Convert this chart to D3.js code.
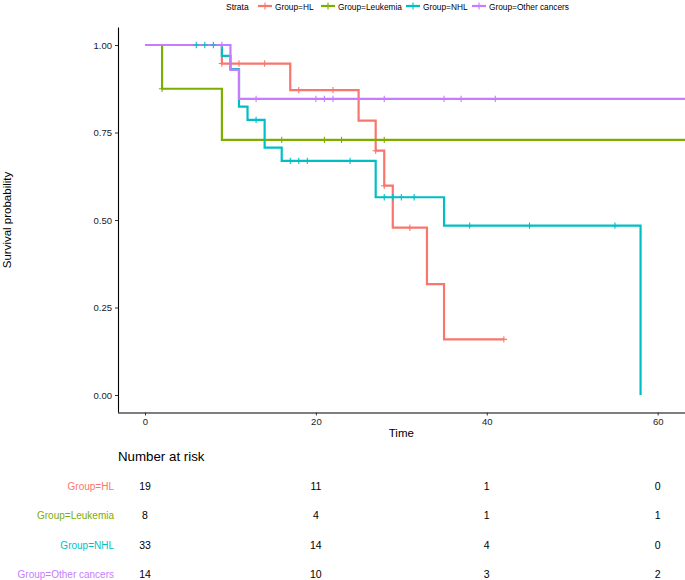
<!DOCTYPE html>
<html>
<head>
<meta charset="utf-8">
<script src="https://cdn.jsdelivr.net/npm/d3@7"></script>
<style>
  body { margin: 0; background: #fff; }
  svg { display: block; font-family: "Liberation Sans", Arial, sans-serif; }
</style>
</head>
<body>
<svg id="chart" width="685" height="580"></svg>
<script>
// ---------- data ----------
const groups = ["Group=HL", "Group=Leukemia", "Group=NHL", "Group=Other cancers"];
const colors = ["#F8766D", "#7CAE00", "#00BFC4", "#C77CFF"];

// step times (event times) and survival after each step
const hlTimes   = [0, 9, 17, 25, 27, 28, 29, 33, 35];
const hlSurv    = [1, 0.947, 0.871, 0.784, 0.698, 0.598, 0.478, 0.317, 0.159];
const hlEnd     = 42;
const hlCensor  = [9, 11, 14, 18, 22, 27, 28, 31, 42];

const leuTimes  = [0, 2, 9];
const leuSurv   = [1, 0.875, 0.729];
const leuEnd    = 63.2;
const leuCensor = [2, 16, 21, 23, 28];

const nhlTimes  = [0, 9, 10, 11, 12, 14, 16, 27, 35, 58];
const nhlSurv   = [1, 0.969, 0.931, 0.824, 0.786, 0.707, 0.669, 0.565, 0.484, 0];
const nhlEnd    = 58;
const nhlCensor = [6, 7, 8, 13, 17, 18, 19, 24, 28, 29, 30, 31.5, 38, 45, 55];

const othTimes  = [0, 10, 11];
const othSurv   = [1, 0.929, 0.846];
const othEnd    = 63.2;
const othCensor = [9, 13, 20, 21, 22, 28, 35, 37, 41];

const xTicks = [0, 20, 40, 60];
const yTicks = [0, 0.25, 0.5, 0.75, 1];
const riskTimes = [0, 20, 40, 60];
const riskHL    = [19, 11, 1, 0];
const riskLeu   = [8, 4, 1, 1];
const riskNHL   = [33, 14, 4, 0];
const riskOth   = [14, 10, 3, 2];

const series = [
  {times: hlTimes,  surv: hlSurv,  end: hlEnd,  censor: hlCensor,  risk: riskHL},
  {times: leuTimes, surv: leuSurv, end: leuEnd, censor: leuCensor, risk: riskLeu},
  {times: nhlTimes, surv: nhlSurv, end: nhlEnd, censor: nhlCensor, risk: riskNHL},
  {times: othTimes, surv: othSurv, end: othEnd, censor: othCensor, risk: riskOth}
];

// ---------- layout ----------
const svg = d3.select("#chart");
const pLeft = 118, pRight = 685, pTop = 27.5, pBottom = 412.5;
const x = d3.scaleLinear().domain([-3.16, 63.2]).range([pLeft, pRight]);
const y = d3.scaleLinear().domain([-0.05, 1.05]).range([pBottom, pTop]);

svg.append("clipPath").attr("id", "clip")
  .append("rect").attr("x", pLeft).attr("y", 0).attr("width", pRight - pLeft).attr("height", pBottom);

const line = d3.line().x(d => x(d[0])).y(d => y(d[1])).curve(d3.curveStepAfter);
const plotG = svg.append("g").attr("clip-path", "url(#clip)");

series.forEach((s, i) => {
  const pts = s.times.map((t, k) => [t, s.surv[k]]);
  pts.push([s.end, s.surv[s.surv.length - 1]]);
  plotG.append("path")
    .attr("d", line(pts))
    .attr("fill", "none")
    .attr("stroke", colors[i])
    .attr("stroke-width", 2.2);
});

function survAt(s, t) {
  let v = s.surv[0];
  for (let k = 0; k < s.times.length; k++) if (s.times[k] <= t) v = s.surv[k];
  return v;
}
const cs = 3.2;
series.forEach((s, i) => {
  s.censor.forEach(t => {
    const cx = x(t), cy = y(survAt(s, t));
    plotG.append("path")
      .attr("d", `M${cx - cs},${cy}H${cx + cs}M${cx},${cy - cs}V${cy + cs}`)
      .attr("stroke", colors[i])
      .attr("stroke-width", 1.1);
  });
});

// axes
const xAxis = d3.axisBottom(x).tickValues(xTicks).tickSize(3).tickPadding(3).tickFormat(d3.format("d"));
const yAxis = d3.axisLeft(y).tickValues(yTicks).tickSize(3).tickPadding(3).tickFormat(d3.format(".2f"));
const gx = svg.append("g").attr("transform", `translate(0,${pBottom})`).call(xAxis);
const gy = svg.append("g").attr("transform", `translate(${pLeft},0)`).call(yAxis);
gx.select(".domain").attr("stroke", "#000").attr("stroke-width", 1.1).attr("d", `M${pLeft},0.5H${pRight}`);
gy.select(".domain").attr("stroke", "#000").attr("stroke-width", 1.1).attr("d", `M0.5,${pTop}V${pBottom}`);
[gx, gy].forEach(g => {
  g.selectAll(".tick line").attr("stroke", "#333").attr("stroke-width", 1);
  g.selectAll(".tick text").attr("fill", "#222").style("font-size", "9.5px");
});

svg.append("text").attr("x", x(30)).attr("y", 437)
  .attr("text-anchor", "middle").style("font-size", "11.5px").attr("fill", "#000").text("Time");
svg.append("text")
  .attr("transform", `translate(11,${(pTop + pBottom) / 2}) rotate(-90)`)
  .attr("text-anchor", "middle").style("font-size", "11.5px").attr("fill", "#000").text("Survival probability");

// legend
const lg = svg.append("g");
lg.append("text").attr("x", 226).attr("y", 9.5).style("font-size", "8.5px").attr("fill", "#000").text("Strata");
const keyX = [258, 321, 406, 472];
groups.forEach((g, i) => {
  const kx = keyX[i];
  lg.append("line").attr("x1", kx).attr("x2", kx + 14).attr("y1", 6).attr("y2", 6)
    .attr("stroke", colors[i]).attr("stroke-width", 2.2);
  lg.append("path").attr("d", `M${kx + 7 - 3.5},6H${kx + 7 + 3.5}M${kx + 7},2.5V9.5`)
    .attr("stroke", colors[i]).attr("stroke-width", 1.1);
  lg.append("text").attr("x", kx + 17).attr("y", 9.5).style("font-size", "8.3px")
    .attr("fill", "#000").text(g);
});

// risk table
svg.append("text").attr("x", 118).attr("y", 461).style("font-size", "13.3px").attr("fill", "#000").text("Number at risk");
const rowY = [486, 515.5, 545, 574];
series.forEach((s, i) => {
  svg.append("text").attr("x", 114).attr("y", rowY[i]).attr("dy", "0.35em")
    .attr("text-anchor", "end").style("font-size", "10px").attr("fill", colors[i]).text(groups[i]);
  riskTimes.forEach((t, k) => {
    svg.append("text").attr("x", x(t)).attr("y", rowY[i]).attr("dy", "0.35em")
      .attr("text-anchor", "middle").style("font-size", "10.5px").attr("fill", "#000").text(s.risk[k]);
  });
});
</script>
</body>
</html>
